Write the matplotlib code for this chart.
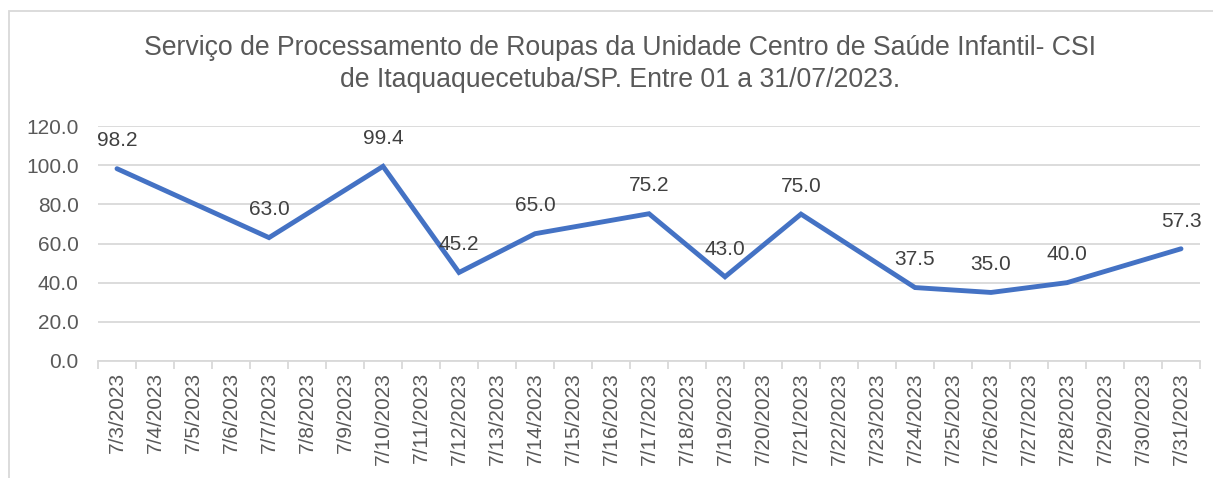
import matplotlib
matplotlib.use("Agg")
import matplotlib.pyplot as plt
import matplotlib.patches as patches
import pandas as pd

plt.rcParams['font.family'] = ['Liberation Sans', 'DejaVu Sans']

title = "Serviço de Processamento de Roupas da Unidade Centro de Saúde Infantil- CSI\nde Itaquaquecetuba/SP. Entre 01 a 31/07/2023."

dates = pd.to_datetime(["2023-07-03", "2023-07-07", "2023-07-10", "2023-07-12",
                        "2023-07-14", "2023-07-17", "2023-07-19", "2023-07-21",
                        "2023-07-24", "2023-07-26", "2023-07-28", "2023-07-31"])
values = [98.2, 63.0, 99.4, 45.2, 65.0, 75.2, 43.0, 75.0, 37.5, 35.0, 40.0, 57.3]

axis_days = pd.date_range("2023-07-03", "2023-07-31", freq="D")
tick_labels = [f"{d.month}/{d.day}/{d.year}" for d in axis_days]

start = axis_days[0]
x_all = [(d - start).days for d in axis_days]
x = [(d - start).days for d in dates]

gray_text = "#595959"
grid_col = "#D9D9D9"
line_col = "#4472C4"

fig = plt.figure(figsize=(12.13, 4.78), dpi=100)
ax = fig.add_axes([98 / 1213, 1 - 361 / 478, (1200 - 98) / 1213, (361 - 126) / 478])

# chart frame
fig.patches.append(patches.Rectangle((9 / 1213, -0.1), 1.2, 1 - 11 / 478 + 0.1,
                                     transform=fig.transFigure, fill=False,
                                     edgecolor=grid_col, linewidth=1.3))

ax.plot(x, values, color=line_col, linewidth=3.5, solid_joinstyle="miter",
        solid_capstyle="round", zorder=3)

for xi, v in zip(x, values):
    ax.annotate(f"{v:.1f}", (xi, v), xytext=(0, 20), textcoords="offset points",
                ha="center", va="center", fontsize=15, color="#404040", zorder=4)

ax.set_ylim(0, 120)
ax.set_yticks(range(0, 121, 20))
ax.set_yticklabels([f"{t:.1f}" for t in range(0, 121, 20)])
ax.set_xlim(-0.5, len(x_all) - 0.5)
ax.set_xticks(x_all)
ax.set_xticklabels(tick_labels, rotation=90)
ax.set_xticks([i - 0.5 for i in range(len(x_all) + 1)], minor=True)

ax.tick_params(axis="y", length=0, pad=14, labelsize=15, labelcolor=gray_text)
ax.tick_params(axis="x", which="major", length=0, pad=8, labelsize=15, labelcolor=gray_text)
ax.tick_params(axis="x", which="minor", length=6, color=grid_col, width=1.3)

ax.grid(axis="y", color=grid_col, linewidth=1.3)
ax.set_axisbelow(True)
for s in ["top", "right", "left"]:
    ax.spines[s].set_visible(False)
ax.spines["bottom"].set_color(grid_col)
ax.spines["bottom"].set_linewidth(1.3)

fig.text(620 / 1213, 1 - 64 / 478, title, ha="center", va="center",
         fontsize=19.2, color=gray_text, linespacing=1.28)

fig.savefig("out.png", dpi=100)
